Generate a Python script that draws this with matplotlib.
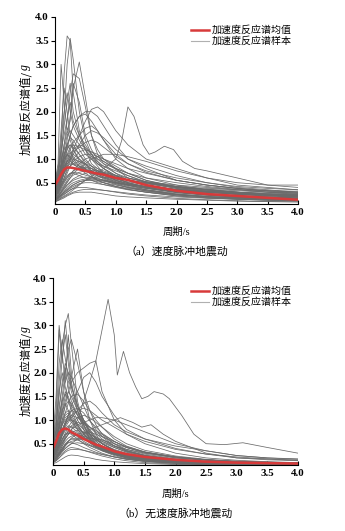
import numpy as np
import matplotlib
matplotlib.use("Agg")
import matplotlib.pyplot as plt
from matplotlib.lines import Line2D

plt.rcParams['font.family'] = ['Liberation Serif', 'Noto Sans CJK SC']

# common period grid (s)
period = [0, 0.05, 0.1, 0.15, 0.2, 0.25, 0.3, 0.4, 0.5, 0.6, 0.7, 0.8,
          1.0, 1.2, 1.5, 2.0, 2.5, 3.0, 3.5, 4.0]

# (a) pulse-like ground motions
samples_a = [
    [0.35, 0.6, 1.2, 2.8, 3.6, 3.5, 2.4, 1.6, 1.2, 0.9, 0.8, 0.7, 0.6, 0.5, 0.4, 0.3, 0.25, 0.2, 0.18, 0.15],
    [0.3, 0.5, 0.9, 1.9, 3.0, 3.55, 3.1, 2.0, 1.4, 1.1, 0.9, 0.8, 0.65, 0.55, 0.45, 0.35, 0.28, 0.22, 0.2, 0.17],
    [0.5, 0.9, 3.0, 2.2, 1.6, 1.8, 2.6, 2.2, 1.5, 1.2, 1.0, 0.9, 0.8, 0.6, 0.5, 0.4, 0.32, 0.28, 0.24, 0.2],
    [0.4, 0.6, 0.9, 1.3, 1.8, 2.4, 2.8, 2.7, 2.1, 1.5, 1.2, 1.0, 0.8, 0.7, 0.55, 0.4, 0.35, 0.3, 0.25, 0.22],
    [0.25, 0.4, 0.7, 1.0, 1.4, 1.9, 2.5, 3.05, 2.3, 1.5, 1.1, 0.9, 0.7, 0.55, 0.45, 0.35, 0.3, 0.25, 0.22, 0.2],
    [0.3, 0.5, 0.8, 1.1, 1.3, 1.5, 1.7, 1.9, 2.0, 2.0, 1.9, 1.7, 1.3, 1.0, 0.8, 0.55, 0.45, 0.38, 0.32, 0.28],
    [0.2, 0.3, 0.5, 0.7, 0.9, 1.0, 1.2, 1.5, 1.8, 2.05, 2.1, 2.0, 1.6, 1.3, 1.0, 0.8, 0.6, 0.45, 0.4, 0.35],
    [0.2, 0.35, 0.6, 0.9, 1.2, 1.5, 1.7, 1.9, 1.95, 1.8, 1.6, 1.4, 1.0, 0.8, 0.6, 0.45, 0.35, 0.3, 0.27, 0.25],
    [0.45, 0.7, 1.4, 2.0, 2.4, 2.0, 1.7, 1.4, 1.2, 1.0, 0.85, 0.7, 0.55, 0.45, 0.35, 0.25, 0.2, 0.16, 0.14, 0.12],
    [0.3, 0.45, 0.8, 1.2, 1.5, 1.6, 1.5, 1.3, 1.1, 1.0, 0.9, 0.85, 0.75, 0.65, 0.5, 0.38, 0.3, 0.25, 0.22, 0.2],
    [0.2, 0.3, 0.45, 0.6, 0.8, 0.95, 1.1, 1.3, 1.5, 1.6, 1.55, 1.45, 1.2, 1.0, 0.85, 0.65, 0.5, 0.42, 0.38, 0.35],
    [0.15, 0.2, 0.3, 0.4, 0.5, 0.6, 0.7, 0.8, 0.9, 1.0, 1.05, 1.1, 1.1, 1.05, 0.95, 0.75, 0.6, 0.5, 0.45, 0.45],
    [0.25, 0.4, 0.6, 0.8, 0.9, 0.95, 0.9, 0.85, 0.8, 0.75, 0.7, 0.65, 0.55, 0.48, 0.4, 0.3, 0.25, 0.2, 0.17, 0.15],
    [0.2, 0.3, 0.45, 0.55, 0.65, 0.7, 0.7, 0.65, 0.6, 0.55, 0.5, 0.46, 0.4, 0.35, 0.3, 0.22, 0.18, 0.15, 0.13, 0.12],
    [0.12, 0.15, 0.2, 0.25, 0.3, 0.35, 0.38, 0.4, 0.4, 0.38, 0.36, 0.34, 0.3, 0.26, 0.22, 0.17, 0.14, 0.12, 0.1, 0.1],
    [0.1, 0.12, 0.15, 0.18, 0.22, 0.25, 0.28, 0.3, 0.3, 0.3, 0.28, 0.26, 0.22, 0.2, 0.18, 0.15, 0.13, 0.11, 0.1, 0.09],
    [0.35, 0.55, 0.9, 1.3, 1.6, 1.4, 1.2, 0.95, 0.8, 0.65, 0.55, 0.5, 0.42, 0.36, 0.3, 0.22, 0.18, 0.15, 0.13, 0.12],
    [0.3, 0.45, 0.7, 0.9, 1.1, 1.25, 1.3, 1.25, 1.2, 1.15, 1.1, 1.0, 0.85, 0.7, 0.55, 0.42, 0.34, 0.28, 0.24, 0.22],
    [0.18, 0.25, 0.35, 0.45, 0.55, 0.65, 0.75, 0.9, 1.0, 1.05, 1.0, 0.95, 0.8, 0.7, 0.6, 0.5, 0.42, 0.36, 0.3, 0.28],
    [0.5, 0.8, 1.6, 2.5, 2.0, 1.5, 1.3, 1.1, 0.9, 0.75, 0.65, 0.58, 0.48, 0.4, 0.32, 0.24, 0.2, 0.17, 0.15, 0.13],
    [0.15, 0.22, 0.3, 0.38, 0.45, 0.52, 0.58, 0.65, 0.7, 0.72, 0.72, 0.7, 0.62, 0.55, 0.5, 0.42, 0.38, 0.35, 0.33, 0.32],
    [0.22, 0.35, 0.55, 0.75, 0.95, 1.1, 1.2, 1.3, 1.25, 1.1, 0.95, 0.85, 0.7, 0.6, 0.52, 0.45, 0.4, 0.35, 0.3, 0.25],
    [0.4, 0.65, 1.1, 1.7, 2.2, 2.6, 2.0, 1.5, 1.3, 1.1, 0.95, 0.8, 0.6, 0.5, 0.4, 0.3, 0.24, 0.2, 0.18, 0.16],
    [0.1, 0.13, 0.18, 0.22, 0.26, 0.3, 0.35, 0.45, 0.55, 0.6, 0.62, 0.62, 0.58, 0.52, 0.45, 0.35, 0.3, 0.28, 0.26, 0.24],
    [0.28, 0.4, 0.6, 0.85, 1.05, 1.2, 1.35, 1.5, 1.65, 1.7, 1.6, 1.4, 1.1, 0.9, 0.75, 0.6, 0.5, 0.4, 0.35, 0.3],
    [0.35, 0.5, 0.75, 1.0, 1.2, 1.3, 1.25, 1.1, 0.95, 0.85, 0.75, 0.7, 0.62, 0.55, 0.48, 0.4, 0.36, 0.33, 0.3, 0.28],
    [0.12, 0.18, 0.25, 0.3, 0.35, 0.4, 0.45, 0.52, 0.55, 0.55, 0.52, 0.5, 0.45, 0.4, 0.35, 0.28, 0.24, 0.2, 0.18, 0.16],
    [0.2, 0.3, 0.5, 0.7, 0.85, 1.0, 1.1, 1.0, 0.9, 0.8, 0.72, 0.68, 0.6, 0.55, 0.5, 0.42, 0.36, 0.3, 0.25, 0.22],
    [0.45, 0.75, 1.2, 1.5, 1.85, 2.2, 1.8, 1.5, 1.2, 1.05, 0.9, 0.8, 0.65, 0.55, 0.45, 0.34, 0.27, 0.22, 0.19, 0.17],
    [0.2, 0.3, 0.5, 0.7, 0.8, 0.85, 0.9, 0.95, 0.9, 0.85, 0.8, 0.75, 0.65, 0.55, 0.45, 0.35, 0.3, 0.26, 0.23, 0.2],
    [0.3, 0.45, 0.7, 0.95, 1.1, 1.0, 0.9, 0.8, 0.7, 0.62, 0.55, 0.5, 0.42, 0.36, 0.3, 0.24, 0.2, 0.18, 0.16, 0.15],
    [0.15, 0.2, 0.28, 0.36, 0.45, 0.5, 0.55, 0.6, 0.62, 0.6, 0.58, 0.56, 0.5, 0.45, 0.38, 0.3, 0.25, 0.22, 0.2, 0.18],
    [0.25, 0.35, 0.55, 0.8, 1.0, 1.15, 1.0, 0.85, 0.75, 0.7, 0.65, 0.6, 0.5, 0.42, 0.35, 0.26, 0.21, 0.18, 0.15, 0.13],
    [0.4, 0.6, 0.85, 1.0, 1.1, 1.05, 0.95, 0.85, 0.78, 0.72, 0.68, 0.62, 0.52, 0.45, 0.38, 0.3, 0.25, 0.21, 0.18, 0.16],
    [0.18, 0.25, 0.38, 0.5, 0.6, 0.68, 0.75, 0.8, 0.82, 0.8, 0.76, 0.72, 0.64, 0.56, 0.48, 0.38, 0.32, 0.27, 0.24, 0.22],
    [0.12, 0.16, 0.22, 0.28, 0.33, 0.38, 0.42, 0.48, 0.5, 0.5, 0.48, 0.46, 0.42, 0.38, 0.33, 0.26, 0.22, 0.19, 0.17, 0.15],
    [0.22, 0.3, 0.45, 0.6, 0.75, 0.85, 0.95, 1.05, 1.1, 1.1, 1.05, 1.0, 0.9, 0.8, 0.7, 0.55, 0.45, 0.38, 0.33, 0.3],
    [0.3, 0.5, 0.8, 1.1, 1.3, 1.45, 1.4, 1.2, 1.0, 0.85, 0.75, 0.68, 0.58, 0.5, 0.42, 0.32, 0.26, 0.22, 0.19, 0.17],
    [0.14, 0.18, 0.25, 0.32, 0.4, 0.46, 0.5, 0.55, 0.58, 0.58, 0.56, 0.54, 0.5, 0.46, 0.42, 0.36, 0.32, 0.3, 0.28, 0.27],
    [0.35, 0.5, 0.7, 0.85, 0.95, 1.0, 1.0, 0.95, 0.88, 0.8, 0.72, 0.66, 0.56, 0.48, 0.4, 0.3, 0.24, 0.2, 0.17, 0.15],
    [0.2, 0.28, 0.4, 0.52, 0.62, 0.7, 0.72, 0.7, 0.66, 0.62, 0.58, 0.55, 0.5, 0.46, 0.42, 0.36, 0.3, 0.26, 0.23, 0.21],
    [0.28, 0.4, 0.6, 0.8, 0.95, 1.05, 1.15, 1.25, 1.35, 1.4, 1.35, 1.25, 1.05, 0.9, 0.72, 0.55, 0.45, 0.38, 0.33, 0.3],
    [0.1, 0.13, 0.17, 0.2, 0.24, 0.27, 0.3, 0.34, 0.36, 0.36, 0.35, 0.34, 0.31, 0.28, 0.24, 0.2, 0.17, 0.15, 0.13, 0.12],
    [0.45, 0.7, 1.0, 1.2, 1.3, 1.2, 1.05, 0.9, 0.78, 0.68, 0.6, 0.55, 0.46, 0.4, 0.33, 0.25, 0.2, 0.17, 0.15, 0.13],
    [0.16, 0.22, 0.32, 0.42, 0.52, 0.6, 0.66, 0.72, 0.75, 0.76, 0.75, 0.72, 0.66, 0.6, 0.52, 0.42, 0.35, 0.3, 0.26, 0.24],
    [0.25, 0.38, 0.55, 0.72, 0.85, 0.9, 0.88, 0.82, 0.76, 0.7, 0.64, 0.6, 0.52, 0.46, 0.4, 0.32, 0.27, 0.23, 0.2, 0.18],
    [0.2, 0.3, 0.42, 0.55, 0.7, 0.85, 1.0, 1.15, 1.2, 1.15, 1.05, 0.95, 0.78, 0.65, 0.52, 0.4, 0.33, 0.28, 0.25, 0.23],
    [0.32, 0.5, 0.78, 1.05, 1.25, 1.3, 1.2, 1.0, 0.85, 0.75, 0.68, 0.62, 0.54, 0.48, 0.42, 0.35, 0.3, 0.27, 0.25, 0.24],
    [0.13, 0.17, 0.24, 0.3, 0.36, 0.42, 0.46, 0.52, 0.55, 0.56, 0.55, 0.53, 0.48, 0.44, 0.38, 0.3, 0.25, 0.21, 0.19, 0.17],
]
special_a_T = [0, 0.2, 0.5, 0.8, 1.0, 1.1, 1.2, 1.3, 1.45, 1.55, 1.65, 1.8, 1.95, 2.1, 2.3, 2.5, 3.0, 3.5, 4.0]
special_a = [0.15, 0.3, 0.55, 0.8, 1.0, 1.4, 2.1, 1.9, 1.3, 1.1, 1.15, 1.27, 1.2, 0.95, 0.8, 0.75, 0.6, 0.45, 0.4]
mean_a = [0.45, 0.55, 0.68, 0.78, 0.82, 0.82, 0.81, 0.78, 0.75, 0.72, 0.69, 0.67,
          0.6, 0.56, 0.45, 0.33, 0.26, 0.22, 0.18, 0.14]

# (b) non-pulse ground motions
samples_b = [
    [0.4, 0.8, 1.8, 2.6, 3.0, 3.25, 2.6, 1.4, 0.9, 0.6, 0.45, 0.35, 0.25, 0.18, 0.12, 0.08, 0.06, 0.05, 0.05, 0.04],
    [0.5, 1.2, 2.9, 2.2, 3.1, 2.4, 1.8, 1.2, 0.8, 0.6, 0.45, 0.38, 0.28, 0.2, 0.14, 0.09, 0.07, 0.06, 0.05, 0.05],
    [0.6, 1.5, 3.0, 2.4, 1.8, 2.8, 2.0, 1.3, 1.0, 0.7, 0.5, 0.4, 0.3, 0.22, 0.15, 0.1, 0.08, 0.06, 0.05, 0.05],
    [0.3, 0.6, 1.2, 1.8, 2.2, 2.0, 1.9, 2.5, 1.6, 1.0, 0.7, 0.5, 0.35, 0.25, 0.18, 0.12, 0.09, 0.07, 0.06, 0.05],
    [0.35, 0.6, 1.0, 1.5, 2.0, 2.5, 2.7, 2.2, 1.6, 1.2, 0.9, 0.7, 0.5, 0.35, 0.25, 0.16, 0.12, 0.1, 0.08, 0.07],
    [0.25, 0.4, 0.7, 1.0, 1.3, 1.6, 1.8, 2.0, 2.1, 2.2, 2.25, 1.6, 1.0, 0.7, 0.5, 0.3, 0.2, 0.15, 0.12, 0.1],
    [0.2, 0.3, 0.5, 0.7, 0.9, 1.1, 1.3, 1.6, 1.9, 2.0, 1.8, 1.5, 1.1, 0.8, 0.6, 0.4, 0.28, 0.2, 0.16, 0.14],
    [0.45, 0.9, 1.6, 2.0, 1.7, 1.4, 1.2, 0.9, 0.7, 0.55, 0.45, 0.38, 0.28, 0.2, 0.14, 0.1, 0.08, 0.06, 0.05, 0.04],
    [0.3, 0.5, 0.9, 1.3, 1.6, 1.5, 1.3, 1.1, 0.95, 0.8, 0.65, 0.55, 0.42, 0.32, 0.22, 0.14, 0.1, 0.08, 0.07, 0.06],
    [0.2, 0.3, 0.5, 0.7, 0.9, 1.0, 1.1, 1.2, 1.25, 1.2, 1.1, 1.0, 0.85, 0.7, 0.55, 0.38, 0.28, 0.22, 0.18, 0.15],
    [0.15, 0.2, 0.3, 0.45, 0.6, 0.7, 0.8, 0.9, 0.95, 1.0, 1.05, 1.05, 1.0, 0.9, 0.75, 0.5, 0.35, 0.25, 0.2, 0.18],
    [0.3, 0.45, 0.7, 0.9, 1.0, 1.05, 0.95, 0.8, 0.65, 0.55, 0.45, 0.38, 0.28, 0.22, 0.16, 0.11, 0.08, 0.07, 0.06, 0.05],
    [0.2, 0.3, 0.45, 0.6, 0.7, 0.72, 0.7, 0.6, 0.5, 0.42, 0.36, 0.3, 0.22, 0.17, 0.13, 0.09, 0.07, 0.06, 0.05, 0.04],
    [0.1, 0.14, 0.2, 0.28, 0.35, 0.4, 0.42, 0.4, 0.36, 0.32, 0.28, 0.24, 0.18, 0.14, 0.1, 0.07, 0.06, 0.05, 0.04, 0.04],
    [0.08, 0.1, 0.14, 0.18, 0.22, 0.25, 0.26, 0.25, 0.22, 0.2, 0.17, 0.15, 0.12, 0.1, 0.08, 0.06, 0.05, 0.04, 0.04, 0.03],
    [0.4, 0.7, 1.3, 1.7, 2.1, 1.7, 1.4, 1.1, 0.85, 0.7, 0.55, 0.45, 0.32, 0.24, 0.17, 0.11, 0.08, 0.07, 0.06, 0.05],
    [0.25, 0.4, 0.65, 0.9, 1.15, 1.35, 1.5, 1.55, 1.4, 1.2, 1.0, 0.85, 0.6, 0.45, 0.32, 0.2, 0.15, 0.12, 0.1, 0.08],
    [0.35, 0.55, 0.85, 1.1, 1.3, 1.4, 1.35, 1.1, 0.9, 0.7, 0.55, 0.45, 0.33, 0.25, 0.18, 0.12, 0.09, 0.07, 0.06, 0.05],
    [0.15, 0.22, 0.35, 0.5, 0.65, 0.78, 0.88, 0.95, 0.92, 0.85, 0.78, 0.7, 0.55, 0.42, 0.32, 0.22, 0.16, 0.12, 0.1, 0.08],
    [0.5, 1.0, 2.2, 2.7, 2.3, 1.9, 1.6, 1.2, 0.9, 0.65, 0.5, 0.42, 0.3, 0.22, 0.15, 0.1, 0.07, 0.06, 0.05, 0.04],
    [0.12, 0.18, 0.28, 0.38, 0.48, 0.55, 0.6, 0.62, 0.6, 0.55, 0.5, 0.45, 0.36, 0.28, 0.2, 0.14, 0.1, 0.08, 0.07, 0.06],
    [0.25, 0.35, 0.55, 0.75, 0.9, 1.0, 1.0, 0.92, 0.8, 0.7, 0.62, 0.55, 0.45, 0.38, 0.3, 0.22, 0.16, 0.12, 0.1, 0.08],
    [0.3, 0.5, 0.8, 1.2, 1.5, 1.8, 1.9, 1.6, 1.3, 1.0, 0.8, 0.65, 0.45, 0.35, 0.25, 0.16, 0.12, 0.1, 0.08, 0.07],
    [0.18, 0.25, 0.4, 0.55, 0.68, 0.75, 0.78, 0.72, 0.62, 0.52, 0.44, 0.38, 0.3, 0.25, 0.2, 0.15, 0.12, 0.1, 0.09, 0.08],
    [0.1, 0.15, 0.25, 0.35, 0.45, 0.52, 0.55, 0.58, 0.6, 0.62, 0.6, 0.58, 0.5, 0.42, 0.32, 0.22, 0.16, 0.13, 0.11, 0.1],
    [0.22, 0.32, 0.5, 0.7, 0.85, 0.95, 1.05, 1.2, 1.35, 1.4, 1.3, 1.15, 0.9, 0.75, 0.6, 0.45, 0.35, 0.25, 0.2, 0.17],
    [0.45, 0.8, 1.5, 2.3, 2.8, 2.2, 1.7, 1.3, 1.0, 0.75, 0.6, 0.5, 0.36, 0.26, 0.18, 0.12, 0.09, 0.07, 0.06, 0.05],
    [0.28, 0.4, 0.6, 0.8, 0.95, 1.1, 1.2, 1.25, 1.15, 0.98, 0.85, 0.72, 0.55, 0.42, 0.3, 0.2, 0.15, 0.12, 0.1, 0.09],
    [0.2, 0.3, 0.45, 0.6, 0.7, 0.75, 0.72, 0.65, 0.55, 0.48, 0.42, 0.36, 0.28, 0.22, 0.16, 0.11, 0.08, 0.07, 0.06, 0.05],
    [0.3, 0.45, 0.7, 0.9, 1.05, 1.1, 1.0, 0.85, 0.7, 0.58, 0.48, 0.4, 0.3, 0.23, 0.17, 0.12, 0.09, 0.07, 0.06, 0.05],
    [0.15, 0.2, 0.3, 0.4, 0.5, 0.56, 0.6, 0.58, 0.52, 0.46, 0.4, 0.35, 0.27, 0.21, 0.15, 0.1, 0.08, 0.06, 0.05, 0.05],
    [0.4, 0.6, 0.9, 1.2, 1.35, 1.2, 1.0, 0.8, 0.65, 0.52, 0.43, 0.36, 0.27, 0.2, 0.14, 0.1, 0.07, 0.06, 0.05, 0.04],
    [0.25, 0.35, 0.55, 0.75, 0.95, 1.1, 1.2, 1.15, 1.0, 0.85, 0.72, 0.6, 0.45, 0.34, 0.24, 0.16, 0.12, 0.1, 0.08, 0.07],
    [0.12, 0.16, 0.24, 0.32, 0.4, 0.46, 0.5, 0.52, 0.5, 0.46, 0.42, 0.38, 0.3, 0.24, 0.18, 0.12, 0.09, 0.07, 0.06, 0.05],
    [0.35, 0.55, 0.85, 1.15, 1.4, 1.6, 1.5, 1.2, 0.95, 0.75, 0.6, 0.5, 0.36, 0.27, 0.19, 0.12, 0.09, 0.07, 0.06, 0.05],
    [0.18, 0.25, 0.38, 0.5, 0.62, 0.7, 0.75, 0.78, 0.75, 0.7, 0.64, 0.58, 0.46, 0.36, 0.26, 0.17, 0.12, 0.1, 0.08, 0.07],
    [0.22, 0.32, 0.5, 0.68, 0.82, 0.88, 0.85, 0.75, 0.62, 0.52, 0.44, 0.38, 0.29, 0.23, 0.17, 0.11, 0.08, 0.07, 0.06, 0.05],
    [0.1, 0.14, 0.2, 0.26, 0.32, 0.36, 0.38, 0.38, 0.36, 0.33, 0.3, 0.27, 0.22, 0.18, 0.14, 0.1, 0.08, 0.06, 0.05, 0.05],
    [0.45, 0.75, 1.1, 1.4, 1.55, 1.45, 1.25, 1.0, 0.8, 0.62, 0.5, 0.42, 0.3, 0.22, 0.16, 0.1, 0.08, 0.06, 0.05, 0.04],
    [0.28, 0.4, 0.6, 0.8, 0.95, 1.05, 1.1, 1.05, 0.95, 0.85, 0.75, 0.66, 0.5, 0.38, 0.28, 0.18, 0.13, 0.1, 0.08, 0.07],
    [0.16, 0.22, 0.33, 0.45, 0.55, 0.62, 0.66, 0.68, 0.66, 0.62, 0.57, 0.52, 0.42, 0.33, 0.24, 0.16, 0.12, 0.1, 0.08, 0.07],
    [0.3, 0.5, 0.8, 1.0, 1.15, 1.2, 1.1, 0.9, 0.72, 0.58, 0.48, 0.41, 0.31, 0.24, 0.17, 0.11, 0.08, 0.07, 0.06, 0.05],
    [0.2, 0.28, 0.42, 0.58, 0.72, 0.85, 0.95, 1.05, 1.1, 1.05, 0.95, 0.85, 0.65, 0.5, 0.36, 0.24, 0.17, 0.13, 0.11, 0.09],
    [0.14, 0.2, 0.3, 0.4, 0.48, 0.52, 0.52, 0.48, 0.42, 0.37, 0.32, 0.28, 0.22, 0.17, 0.13, 0.09, 0.07, 0.06, 0.05, 0.04],
    [0.38, 0.6, 1.0, 1.4, 1.8, 2.0, 1.7, 1.3, 1.0, 0.78, 0.62, 0.5, 0.36, 0.26, 0.18, 0.12, 0.09, 0.07, 0.06, 0.05],
    [0.24, 0.34, 0.5, 0.66, 0.78, 0.84, 0.86, 0.82, 0.74, 0.66, 0.58, 0.5, 0.38, 0.3, 0.22, 0.15, 0.11, 0.09, 0.08, 0.07],
    [0.12, 0.17, 0.26, 0.36, 0.46, 0.55, 0.62, 0.7, 0.74, 0.74, 0.7, 0.65, 0.54, 0.44, 0.33, 0.22, 0.16, 0.12, 0.1, 0.09],
    [0.32, 0.48, 0.72, 0.95, 1.1, 1.15, 1.05, 0.88, 0.72, 0.6, 0.5, 0.43, 0.33, 0.26, 0.19, 0.13, 0.1, 0.08, 0.07, 0.06],
]
special_b1_T = [0, 0.2, 0.4, 0.6, 0.7, 0.8, 0.9, 1.0, 1.05, 1.1, 1.15, 1.25, 1.35, 1.45,
                1.55, 1.65, 1.8, 1.9, 2.1, 2.3, 2.5, 2.8, 3.1, 3.5, 4.0]
special_b1 = [0.3, 0.6, 1.0, 1.8, 2.25, 2.9, 3.55, 2.8, 1.95, 2.2, 2.45, 2.0, 1.7, 1.45,
              1.5, 1.6, 1.55, 1.45, 1.1, 0.7, 0.5, 0.48, 0.52, 0.42, 0.3]
special_b2_T = [0, 0.3, 0.6, 0.9, 1.1, 1.3, 1.45, 1.6, 1.8, 2.0, 2.5, 3.0, 4.0]
special_b2 = [0.2, 0.5, 0.8, 0.95, 1.05, 0.95, 0.85, 0.9, 0.7, 0.55, 0.3, 0.2, 0.15]
mean_b = [0.4, 0.55, 0.72, 0.8, 0.82, 0.8, 0.74, 0.68, 0.6, 0.54, 0.48, 0.44,
          0.34, 0.28, 0.22, 0.16, 0.12, 0.1, 0.09, 0.08]

gray = '#6a6a6a'
red = '#d83a3a'

fig = plt.figure(figsize=(3.45, 5.31), dpi=100)
W, H = 345, 531


def add_panel(box, samples, specials, mean, caption, xlab_y, cap_y):
    left, top, right, bottom = box
    ax = fig.add_axes([left / W, 1 - bottom / H, (right - left) / W, (bottom - top) / H])
    for s in samples:
        ax.plot(period, s, color=gray, lw=0.55)
    for t, s in specials:
        ax.plot(t, s, color=gray, lw=0.55)
    ax.plot(period, mean, color=red, lw=1.8)
    ax.set_xlim(0, 4.0)
    ax.set_ylim(0.05, 4.0)
    ax.set_xticks(np.arange(0, 4.01, 0.5))
    ax.set_xticklabels(['0'] + ['%.1f' % v for v in np.arange(0.5, 4.01, 0.5)])
    ax.set_yticks(np.arange(0.5, 4.01, 0.5))
    for lab in ax.get_xticklabels() + ax.get_yticklabels():
        lab.set_fontweight('bold')
    ax.spines['top'].set_visible(False)
    ax.spines['right'].set_visible(False)
    ax.tick_params(axis='y', direction='out', length=3, width=0.8, labelsize=7.8, pad=1.5)
    ax.tick_params(axis='x', direction='in', length=3, width=0.8, labelsize=7.8, pad=3)
    handles = [Line2D([], [], color=red, lw=1.8), Line2D([], [], color='#b0b0b0', lw=0.8)]
    ax.legend(handles, ['加速度反应谱均值', '加速度反应谱样本'], loc='upper right',
              bbox_to_anchor=(0.975, 0.955), frameon=False, fontsize=7.2,
              handlelength=1.8, handletextpad=0.25, labelspacing=0.15,
              borderpad=0, borderaxespad=0)
    cx = (left + right) / 2 / W
    # y label: CJK part plus italic g, stacked along the rotated baseline
    yc = 1 - (top + bottom) / 2 / H
    y0 = yc + 40 / H
    fig.text(25 / W, y0, '加速度反应谱值/', rotation=90, ha='center', va='top',
             fontsize=8.2, family=['Noto Sans CJK SC'])
    fig.text(25 / W, y0, 'g', rotation=90, ha='center', va='bottom',
             fontsize=8.6, style='italic', family=['Liberation Serif'])
    fig.text(cx, 1 - xlab_y / H, '周期/s', ha='center', va='center', fontsize=7.5)
    fig.text(cx, 1 - cap_y / H, caption, ha='center', va='center', fontsize=7.8)
    return ax


add_panel((55, 17, 298, 204), samples_a, [(special_a_T, special_a)], mean_a,
          '（a）速度脉冲地震动', 232, 251)
add_panel((53, 278, 298, 465), samples_b,
          [(special_b1_T, special_b1), (special_b2_T, special_b2)], mean_b,
          '（b）无速度脉冲地震动', 494, 513)

fig.savefig('out.png', dpi=100)
